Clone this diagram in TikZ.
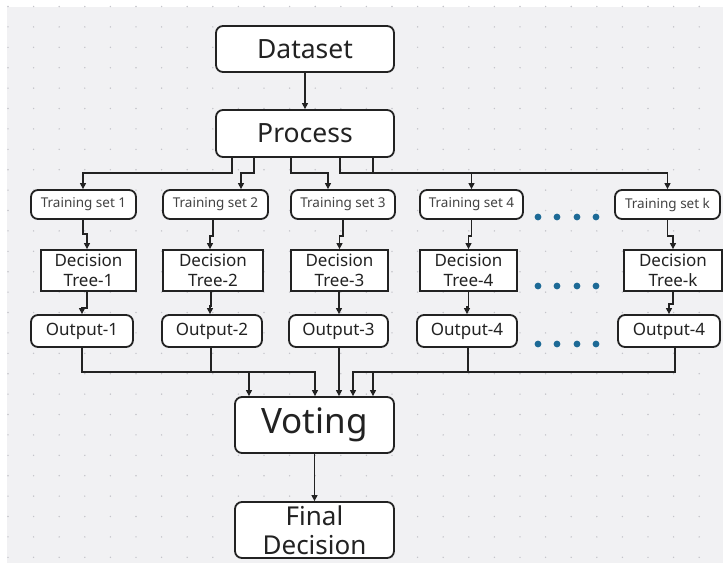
\documentclass[tikz,border=0pt]{standalone}
\usepackage{fontspec}
\setmainfont{Noto Sans}
\usetikzlibrary{arrows.meta,calc}
\definecolor{bg}{HTML}{F1F1F3}
\definecolor{griddot}{HTML}{C4C4CA}
\definecolor{ink}{HTML}{222222}
\definecolor{dotblue}{HTML}{1D6A96}
\begin{document}
\begin{tikzpicture}[x=1pt,y=-1pt,
  box/.style={draw=ink, line width=1.8pt, fill=white, rounded corners=7pt, inner sep=0pt, align=center, text=ink},
  sqbox/.style={box, rounded corners=0pt},
  tsbox/.style={box, minimum height=29pt, font=\fontsize{13.5}{15}\selectfont, text=ink!85},
  dtbox/.style={sqbox, minimum height=41pt, font=\fontsize{17}{19.5}\selectfont},
  outbox/.style={box, minimum height=32pt, font=\fontsize{17}{19}\selectfont},
  arr/.style={draw=ink, line width=1.2pt, -{Triangle[length=6pt,width=6pt]}},
  bluedot/.style={fill=dotblue}]
\useasboundingbox (0,0) rectangle (723,563);
\fill[white] (0,0) rectangle (723,563);
\fill[bg] (7,7) rectangle (723,563);
\foreach \i in {0,...,28} \foreach \j in {0,...,27}
  \fill[griddot] ({8+25.6*\i},{6.5+20.4*\j}) circle (0.8pt);

% top
\node[box, minimum width=178pt, minimum height=46pt, font=\fontsize{26.5}{30}\selectfont] (dataset) at (305,49) {Dataset};
\node[box, minimum width=178pt, minimum height=47pt, font=\fontsize{26.5}{30}\selectfont] (process) at (305,133.5) {Process};

% training sets
\node[tsbox, minimum width=105pt] (ts1) at (83.5,204.5) {Training set 1};
\node[tsbox, minimum width=105pt] (ts2) at (215.5,204.5) {Training set 2};
\node[tsbox, minimum width=104pt] (ts3) at (343,204.5) {Training set 3};
\node[tsbox, minimum width=103pt] (ts4) at (471.5,204.5) {Training set 4};
\node[tsbox, minimum width=105pt] (tsk) at (667.5,204.5) {Training set k};

% decision trees
\node[dtbox, minimum width=95pt] (dt1) at (88.5,270.5) {Decision\\Tree-1};
\node[dtbox, minimum width=100pt] (dt2) at (213,270.5) {Decision\\Tree-2};
\node[dtbox, minimum width=97pt] (dt3) at (339.5,270.5) {Decision\\Tree-3};
\node[dtbox, minimum width=97pt] (dt4) at (468.5,270.5) {Decision\\Tree-4};
\node[dtbox, minimum width=98pt] (dtk) at (673,270.5) {Decision\\Tree-k};

% outputs
\node[outbox, minimum width=102pt] (out1) at (82,331) {Output-1};
\node[outbox, minimum width=100pt] (out2) at (212,331) {Output-2};
\node[outbox, minimum width=99pt] (out3) at (338.5,331) {Output-3};
\node[outbox, minimum width=100pt] (out4) at (467,331) {Output-4};
\node[outbox, minimum width=102pt] (outk) at (669,331) {Output-4};

% bottom
\node[box, minimum width=159pt, minimum height=56pt, font=\fontsize{35}{38}\selectfont] (voting) at (314.5,425) {Voting};
\node[box, minimum width=159pt, minimum height=56pt, font=\fontsize{26}{29}\selectfont] (final) at (314.5,530) {Final\\Decision};

% ellipsis dots
\foreach \yy in {217,286,344}
  \foreach \xx in {538,557,577,596}
    \fill[bluedot] (\xx,\yy) circle (3.4pt);

% connectors
\coordinate (pbus) at (0,173);
\coordinate (vbus) at (0,372);
\draw[arr] (dataset.south) -- (process.north);
\draw[arr] ([xshift=-73pt]process.south) |- ([xshift=-0.5pt]ts1.north |- pbus) -- ([xshift=-0.5pt]ts1.north);
\draw[arr] ([xshift=-51pt]process.south) |- ([xshift=25.5pt]ts2.north |- pbus) -- ([xshift=25.5pt]ts2.north);
\draw[arr] ([xshift=-14pt]process.south) |- ([xshift=-15pt]ts3.north |- pbus) -- ([xshift=-15pt]ts3.north);
\draw[arr] ([xshift=35pt]process.south) |- (ts4.north |- pbus) -- (ts4.north);
\draw[arr] ([xshift=68pt]process.south) |- (tsk.north |- pbus) -- (tsk.north);

\draw[arr] ([xshift=-0.5pt]ts1.south) -- ++(0,14) -| ([xshift=-1.5pt]dt1.north);
\draw[arr] ([xshift=-2.5pt]ts2.south) -- ++(0,16) -| ([xshift=-3pt]dt2.north);
\draw[arr] (ts3.south) -- ++(0,16) -| (dt3.north);
\draw[arr] (ts4.south) -- ++(0,16) -| (dt4.north);
\draw[arr] (tsk.south) -- ++(0,16) -| (dtk.north);

\draw[arr] ([xshift=-1.5pt]dt1.south) -- ++(0,16) -| (out1.north);
\draw[arr] ([xshift=-2pt]dt2.south) -- ++(0,14) -| ([xshift=-2pt]out2.north);
\draw[arr] ([xshift=-0.5pt]dt3.south) -- ([xshift=-0.5pt]dt3.south |- out3.north);
\draw[arr] (dt4.south) -- ++(0,15) -| (out4.north);
\draw[arr] (dtk.south) -- ++(0,12) -| (outk.north);

\draw[arr] (out1.south) |- ([xshift=-65.5pt]voting.north |- vbus) -- ([xshift=-65.5pt]voting.north);
\draw[arr] ([xshift=-1pt]out2.south) |- ([xshift=0.5pt]voting.north |- vbus) -- ([xshift=0.5pt]voting.north);
\draw[arr] ([xshift=0.5pt]out3.south) -- ([xshift=0.5pt]out3.south |- voting.north);
\draw[arr] ([xshift=1pt]out4.south) |- ([xshift=38.5pt]voting.north |- vbus) -- ([xshift=38.5pt]voting.north);
\draw[arr] ([xshift=6pt]outk.south) |- ([xshift=58.5pt]voting.north |- vbus) -- ([xshift=58.5pt]voting.north);

\draw[arr] (voting.south) -- (final.north);
\end{tikzpicture}
\end{document}
